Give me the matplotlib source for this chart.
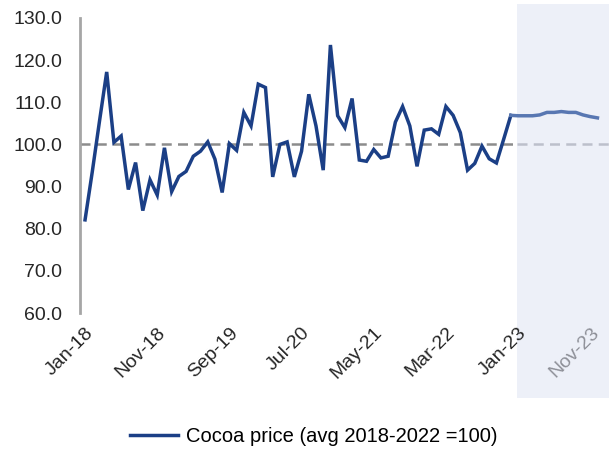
import matplotlib

matplotlib.use("Agg")
import matplotlib.pyplot as plt
import matplotlib.transforms as mtransforms
from matplotlib.lines import Line2D
from matplotlib.patches import Rectangle

plt.rcParams["font.family"] = ["Liberation Sans", "DejaVu Sans"]

# Monthly cocoa price index, Jan-18 .. Dec-22 (avg 2018-2022 = 100)
history = [
    82.1, 93.5, 105.5, 117.2, 100.5, 102.0, 89.3, 95.7, 84.3, 91.6,
    88.0, 99.2, 88.8, 92.4, 93.6, 97.2, 98.4, 100.6, 96.5, 88.6,
    100.2, 98.6, 107.6, 104.4, 114.3, 113.5, 92.3, 100.0, 100.6, 92.3,
    98.4, 111.9, 104.4, 93.9, 123.6, 106.8, 104.0, 110.9, 96.3, 96.0,
    98.8, 96.8, 97.2, 105.3, 109.0, 104.4, 94.8, 103.4, 103.7, 102.4,
    109.0, 106.9, 102.8, 93.9, 95.5, 99.6, 96.6, 95.6, 101.2, 106.9,
]
# Projection Jan-23 .. Dec-23
forecast = [106.8, 106.8, 106.8, 107.0, 107.6, 107.6, 107.8, 107.6, 107.6, 107.0, 106.6, 106.3]

tick_labels = ["Jan-18", "Nov-18", "Sep-19", "Jul-20", "May-21", "Mar-22", "Jan-23", "Nov-23"]
tick_step = 10

NAVY = "#1b3f86"
LIGHT_NAVY = "#5877b2"

fig = plt.figure(figsize=(6.09, 4.54), dpi=100)
ax = fig.add_axes([80 / 609, 1 - 313 / 454, 529 / 609, 295 / 454])

n_hist = len(history)
x_hist = list(range(n_hist))
x_fc = list(range(n_hist - 1, n_hist + len(forecast)))
y_fc = [history[-1]] + forecast

x_right = 72.6
shade_start = n_hist - 0.2

# shaded projection period
fig.add_artist(Rectangle((517 / 609, 1 - 398 / 454), 1 - 517 / 609, 394 / 454,
                         transform=fig.transFigure, facecolor="#edf0f8",
                         edgecolor="none", zorder=-1))
ax.set_facecolor("none")

# reference line at 100
ax.plot([-0.7, shade_start], [100, 100], color="#8c8c8c", lw=1.8,
        dashes=(4, 2.5), zorder=1)
ax.plot([shade_start, x_right], [100, 100], color="#bcc0cb", lw=1.8,
        dashes=(4, 2.5), zorder=1)

ax.plot(x_hist, history, color=NAVY, lw=2.5, solid_joinstyle="miter", zorder=3)
ax.plot(x_fc, y_fc, color=LIGHT_NAVY, lw=2.5, zorder=3)

ax.set_xlim(-0.7, x_right)
ax.set_ylim(60, 130)
ax.set_yticks(range(60, 131, 10))
ax.set_yticklabels([f"{v:.1f}" for v in range(60, 131, 10)], fontsize=14, color="#262626")

ticks = [i * tick_step for i in range(len(tick_labels))]
ax.set_xticks(ticks)
ax.set_xticklabels(tick_labels, fontsize=14, rotation=45, ha="right",
                   va="top", rotation_mode="anchor", color="#262626")
shift = mtransforms.ScaledTranslation(-5 / 100, -3 / 100, fig.dpi_scale_trans)
for lbl in ax.get_xticklabels():
    lbl.set_transform(lbl.get_transform() + shift)
ax.get_xticklabels()[-1].set_color("#8e9098")
ax.tick_params(axis="both", length=0)
ax.tick_params(axis="y", pad=13)
ax.tick_params(axis="x", pad=8)

for side in ["top", "right", "bottom"]:
    ax.spines[side].set_visible(False)
ax.spines["left"].set_color("#a6a6a6")
ax.spines["left"].set_linewidth(2)

handle = Line2D([], [], color=NAVY, lw=2.5)
fig.legend([handle], ["Cocoa price (avg 2018-2022 =100)"], loc="center",
           bbox_to_anchor=(0.515, 1 - 437 / 454), frameon=False, fontsize=14.5,
           handlelength=2.4, handletextpad=0.4)

fig.savefig("out.png", dpi=100)
